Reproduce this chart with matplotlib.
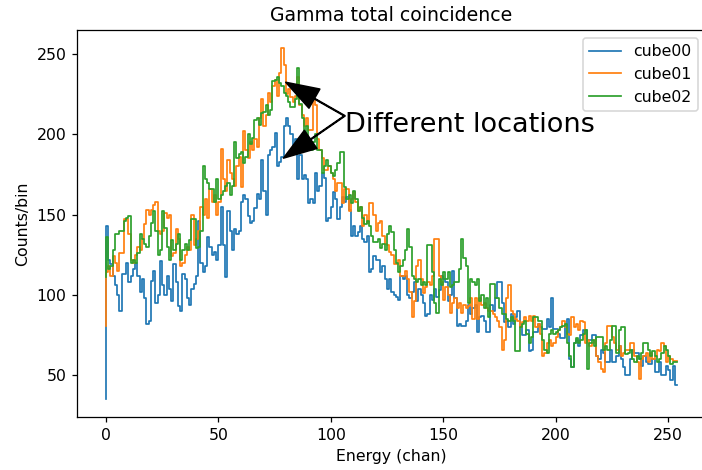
import numpy as np
import matplotlib
matplotlib.use('Agg')
import matplotlib.pyplot as plt

# counts per channel (channels 0..254)
cube00 = [35, 143, 122, 119, 112, 106, 100, 90, 113, 113, 120, 108, 112, 116, 120,
          112, 102, 110, 98, 82, 84, 109, 115, 95, 100, 121, 106, 100, 112, 104,
          96, 119, 108, 93, 90, 113, 110, 98, 94, 104, 107, 112, 146, 120, 114,
          118, 136, 130, 125, 127, 122, 131, 155, 131, 111, 152, 140, 128, 141, 138,
          140, 158, 162, 160, 149, 145, 146, 154, 163, 160, 184, 165, 150, 187, 190,
          192, 201, 180, 183, 186, 205, 210, 205, 200, 191, 197, 172, 187, 172, 175,
          172, 157, 160, 157, 176, 165, 168, 176, 173, 146, 148, 155, 164, 160, 147,
          155, 161, 158, 161, 153, 137, 143, 137, 139, 143, 135, 133, 137, 114, 116,
          124, 122, 122, 114, 118, 110, 104, 110, 102, 100, 99, 97, 112, 110, 112,
          100, 98, 102, 108, 96, 104, 100, 95, 87, 88, 100, 97, 104, 99, 103,
          112, 110, 108, 96, 100, 115, 98, 81, 82, 81, 81, 84, 94, 88, 92,
          94, 77, 86, 87, 84, 77, 77, 94, 90, 98, 108, 108, 95, 83, 84,
          80, 88, 82, 86, 90, 80, 75, 75, 78, 65, 66, 77, 77, 82, 80,
          79, 79, 85, 80, 98, 79, 79, 76, 73, 73, 80, 85, 60, 55, 70,
          72, 68, 75, 78, 78, 72, 72, 75, 75, 62, 60, 66, 64, 58, 58,
          66, 58, 58, 62, 68, 60, 55, 50, 50, 60, 66, 64, 64, 60, 56,
          62, 58, 57, 57, 60, 52, 52, 58, 50, 50, 56, 53, 47, 56, 44]

cube01 = [81, 114, 118, 112, 124, 120, 115, 126, 126, 147, 147, 138, 122, 120, 125,
          130, 128, 135, 144, 153, 150, 153, 156, 158, 140, 138, 140, 151, 148, 150,
          124, 126, 141, 135, 118, 120, 125, 130, 128, 150, 131, 135, 140, 155, 150,
          160, 148, 166, 158, 162, 150, 158, 191, 172, 165, 184, 176, 172, 168, 180,
          186, 167, 202, 190, 185, 195, 190, 197, 192, 210, 222, 205, 212, 226, 220,
          230, 234, 224, 238, 254, 243, 225, 228, 223, 220, 224, 236, 218, 212, 205,
          210, 203, 203, 222, 218, 197, 190, 185, 178, 178, 180, 176, 172, 165, 170,
          170, 157, 166, 166, 152, 160, 164, 158, 152, 155, 143, 150, 145, 157, 157,
          150, 140, 145, 146, 137, 132, 131, 127, 125, 119, 119, 122, 112, 112, 115,
          110, 102, 86, 96, 118, 122, 110, 101, 105, 108, 106, 112, 135, 135, 112,
          108, 97, 105, 100, 89, 95, 98, 92, 95, 89, 94, 92, 93, 98, 85,
          98, 85, 98, 94, 95, 92, 90, 90, 88, 86, 84, 80, 66, 72, 98,
          106, 90, 88, 85, 84, 80, 83, 86, 84, 87, 84, 87, 80, 82, 76,
          62, 64, 70, 72, 68, 70, 74, 78, 80, 84, 80, 76, 75, 86, 80,
          82, 78, 84, 83, 70, 72, 68, 70, 72, 62, 58, 54, 52, 70, 81,
          81, 74, 70, 66, 68, 62, 64, 66, 66, 70, 70, 62, 58, 48, 60,
          62, 64, 58, 64, 60, 62, 66, 65, 70, 68, 58, 62, 60, 59, 59]

cube02 = [111, 136, 116, 118, 128, 138, 138, 140, 140, 146, 148, 149, 120, 122, 120,
          126, 138, 135, 132, 130, 137, 145, 152, 140, 125, 128, 152, 142, 130, 122,
          134, 128, 132, 138, 122, 128, 132, 128, 134, 147, 147, 129, 130, 140, 180,
          172, 170, 166, 166, 158, 172, 160, 162, 165, 168, 170, 162, 168, 195, 185,
          188, 189, 182, 186, 200, 194, 198, 209, 210, 206, 213, 214, 218, 212, 215,
          233, 234, 236, 232, 230, 226, 224, 220, 217, 217, 222, 241, 219, 210, 199,
          205, 196, 190, 195, 200, 190, 190, 176, 180, 184, 180, 176, 174, 178, 182,
          189, 189, 167, 160, 162, 157, 165, 160, 152, 155, 148, 144, 146, 143, 137,
          133, 133, 135, 129, 132, 128, 138, 143, 139, 128, 120, 114, 118, 122, 128,
          141, 130, 112, 110, 108, 110, 106, 108, 106, 131, 131, 114, 95, 89, 110,
          106, 114, 110, 114, 105, 106, 108, 108, 116, 135, 123, 118, 95, 110, 108,
          106, 110, 96, 100, 92, 98, 86, 107, 107, 98, 98, 92, 88, 88, 85,
          84, 86, 84, 65, 65, 80, 82, 84, 76, 70, 74, 86, 86, 84, 84,
          72, 66, 64, 76, 78, 76, 77, 78, 80, 81, 82, 70, 62, 55, 70,
          73, 70, 72, 76, 78, 54, 70, 72, 68, 74, 74, 74, 66, 68, 66,
          72, 81, 81, 64, 78, 80, 80, 63, 64, 66, 60, 58, 62, 60, 64,
          70, 70, 66, 62, 65, 62, 58, 60, 64, 68, 66, 62, 57, 58, 58]

names = ['cube00', 'cube01', 'cube02']

DPI = 113
fig = plt.figure(figsize=(702 / DPI, 470 / DPI), dpi=DPI)
ax = fig.add_axes([77.3 / 702, 53 / 470, 628.3 / 702, 387 / 470])

for name, counts in zip(names, [cube00, cube01, cube02]):
    ax.step(np.arange(len(counts)), counts, where='pre', label=name, lw=1.1)

ax.set_title('Gamma total coincidence')
ax.set_xlabel('Energy (chan)')
ax.set_ylabel('Counts/bin')
ax.legend(loc='upper right')

# two arrows from the same text point
arrow = dict(facecolor='black', width=0.4, headwidth=14, headlength=21)
ax.annotate('', xy=(80.0, 232.4), xytext=(106.2, 211.5), arrowprops=arrow)
ax.annotate('', xy=(79.0, 185.2), xytext=(106.2, 211.5), arrowprops=arrow)
ax.text(106.2, 201.7, 'Different locations', fontsize=17.28, va='baseline')

fig.savefig('out.png', dpi=DPI)
